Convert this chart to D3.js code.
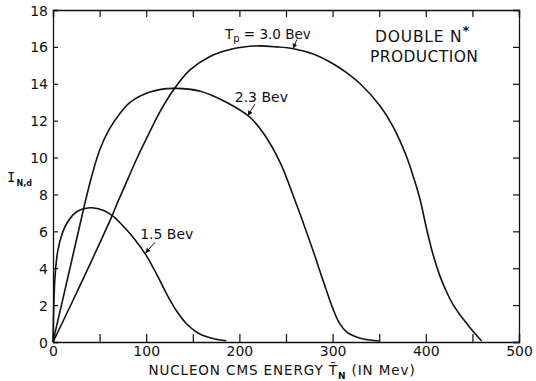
<!DOCTYPE html>
<html>
<head>
<meta charset="utf-8">
<script src="https://cdn.jsdelivr.net/npm/d3@7"></script>
<style>
  html, body { margin: 0; padding: 0; background: #fff; }
  svg { display: block; }
  text { font-family: "DejaVu Sans", sans-serif; fill: #111; }
</style>
</head>
<body>
<svg id="chart" width="536" height="381"></svg>
<script>
// Nucleon CMS energy (MeV) and intensity I_N,d for each proton kinetic energy
const energy15 = [0, 2, 5, 10, 15, 25, 40, 55, 65, 75, 88, 100, 112, 122, 133, 143, 155, 165, 175, 186];
const intensity15 = [0, 3.4, 4.9, 5.9, 6.45, 7.05, 7.28, 7.12, 6.8, 6.3, 5.55, 4.7, 3.6, 2.6, 1.65, 1.0, 0.5, 0.28, 0.15, 0.07];

const energy23 = [0, 4, 10, 20, 30, 40, 50, 60, 72, 83, 104, 129, 158, 186, 211, 226, 244, 258, 276, 290, 300, 307, 315, 325, 333, 350];
const intensity23 = [0, 0.9, 2.2, 4.4, 6.6, 8.7, 10.4, 11.5, 12.4, 13.0, 13.55, 13.75, 13.6, 13.0, 12.2, 11.3, 9.7, 7.9, 5.4, 3.3, 1.85, 1.05, 0.55, 0.28, 0.16, 0.05];

const energy30 = [0, 20, 40, 63, 70, 80, 90, 100, 115, 129, 147, 168, 193, 218, 240, 258, 280, 300, 315, 329, 351, 365, 379, 387, 394, 401, 408, 415, 422, 429, 437, 444, 452, 460];
const intensity30 = [0, 2.1, 4.25, 6.8, 7.65, 8.8, 9.95, 11.0, 12.5, 13.65, 14.75, 15.47, 15.9, 16.05, 16.0, 15.9, 15.6, 15.1, 14.6, 14.03, 12.8, 11.67, 10.1, 8.9, 7.7, 6.1, 4.7, 3.6, 2.75, 2.05, 1.45, 1.0, 0.5, 0.05];

const xTicks = [0, 50, 100, 150, 200, 250, 300, 350, 400, 450, 500];
const xTickLabels = [0, 100, 200, 300, 400, 500];
const yTicks = [0, 2, 4, 6, 8, 10, 12, 14, 16, 18];

const svg = d3.select("#chart");
const m = { left: 53, right: 17, top: 10, bottom: 39 };
const W = 536, H = 381;

const x = d3.scaleLinear().domain([0, 500]).range([m.left, W - m.right]);
const y = d3.scaleLinear().domain([0, 18]).range([H - m.bottom, m.top]);

// axes with inward ticks
const gBottom = svg.append("g").attr("transform", `translate(0,${y(0)})`)
  .call(d3.axisBottom(x).tickValues(xTicks).tickSize(-8).tickPadding(4)
    .tickFormat(d => xTickLabels.includes(d) ? d : ""));
const gTop = svg.append("g").attr("transform", `translate(0,${y(18)})`)
  .call(d3.axisTop(x).tickValues(xTicks).tickSize(-7).tickFormat(""));
const gLeft = svg.append("g").attr("transform", `translate(${x(0)},0)`)
  .call(d3.axisLeft(y).tickValues(yTicks).tickSize(-5).tickPadding(5));
const gRight = svg.append("g").attr("transform", `translate(${x(500)},0)`)
  .call(d3.axisRight(y).tickValues(yTicks).tickSize(-6).tickFormat(""));

[gBottom, gTop, gLeft, gRight].forEach(g => {
  g.select(".domain").attr("stroke", "#111").attr("stroke-width", 1.3);
  g.selectAll(".tick line").attr("stroke", "#111").attr("stroke-width", 1.2);
  g.selectAll(".tick text").attr("font-family", "DejaVu Sans, sans-serif")
    .attr("font-size", 14).attr("fill", "#111");
});
gLeft.selectAll(".tick text").attr("dy", "0.36em");

// curves
const line = d3.line().x(d => x(d[0])).y(d => y(d[1])).curve(d3.curveCatmullRom.alpha(0.5));
const series = [
  d3.zip(energy15, intensity15),
  d3.zip(energy23, intensity23),
  d3.zip(energy30, intensity30)
];
svg.append("g").selectAll("path").data(series).join("path")
  .attr("d", line)
  .attr("fill", "none")
  .attr("stroke", "#111")
  .attr("stroke-width", 1.6)
  .attr("stroke-linejoin", "round");

// curve labels with small pointer arrows (data units)
svg.append("defs").append("marker")
  .attr("id", "head").attr("viewBox", "0 0 6 6").attr("refX", 5).attr("refY", 3)
  .attr("markerWidth", 5).attr("markerHeight", 5).attr("orient", "auto")
  .append("path").attr("d", "M0,0 L6,3 L0,6 Z").attr("fill", "#111");

const pointers = [
  { from: [261.6, 16.4], to: [258, 15.95] },
  { from: [216.6, 12.9], to: [209.5, 12.3] },
  { from: [109.4, 5.4], to: [99.7, 4.85] }
];
svg.append("g").selectAll("line").data(pointers).join("line")
  .attr("x1", d => x(d.from[0])).attr("y1", d => y(d.from[1]))
  .attr("x2", d => x(d.to[0])).attr("y2", d => y(d.to[1]))
  .attr("stroke", "#111").attr("stroke-width", 1)
  .attr("marker-end", "url(#head)");

const tp = svg.append("text").attr("x", x(184.5)).attr("y", y(16.43))
  .attr("font-size", 13.5);
tp.append("tspan").text("T");
tp.append("tspan").attr("font-size", 10).attr("dy", 3).text("p");
tp.append("tspan").attr("dy", -3).text(" = 3.0 Bev");

svg.append("text").attr("x", x(195)).attr("y", y(13.0))
  .attr("font-size", 14).text("2.3 Bev");
svg.append("text").attr("x", x(93.5)).attr("y", y(5.6))
  .attr("font-size", 14).text("1.5 Bev");

const dn = svg.append("text").attr("x", 375).attr("y", 42)
  .attr("font-size", 15.5).attr("letter-spacing", 0.8);
dn.append("tspan").text("DOUBLE N");
dn.append("tspan").attr("dy", -7).attr("font-size", 13).attr("font-weight", "bold").text("*");
svg.append("text").attr("x", 370).attr("y", 62)
  .attr("font-size", 15.5).attr("letter-spacing", 0.4).text("PRODUCTION");

// x axis title with barred T
const xt = svg.append("text").attr("x", 282).attr("y", 375)
  .attr("text-anchor", "middle").attr("font-size", 13.5).attr("letter-spacing", 0.9);
xt.append("tspan").text("NUCLEON CMS ENERGY ");
xt.append("tspan").text("T\u0304");
xt.append("tspan").attr("font-size", 9).attr("font-weight", "bold").attr("dy", 4).text("N");
xt.append("tspan").attr("dy", -4).text(" (IN Mev)");

// y axis title
const yt = svg.append("text").attr("x", 7).attr("y", 182);
yt.append("tspan").attr("font-family", "DejaVu Sans Mono, monospace").attr("font-size", 14).text("I");
yt.append("tspan").attr("font-size", 8).attr("font-weight", "bold").attr("dx", 1).attr("dy", 4).text("N,d");
</script>
</body>
</html>
